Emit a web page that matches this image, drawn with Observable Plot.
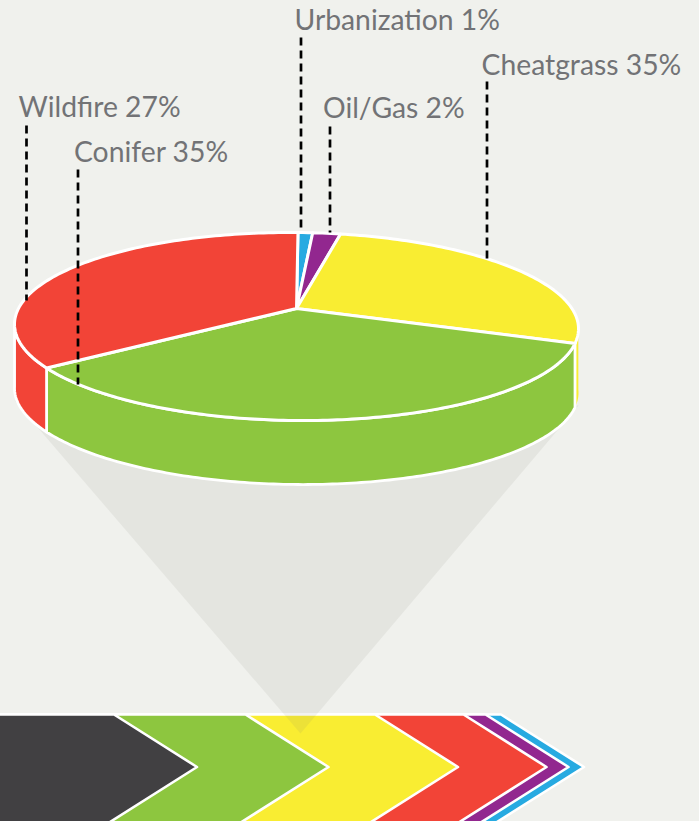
<!DOCTYPE html>
<html>
<head>
<meta charset="utf-8">
<style>
html,body{margin:0;padding:0;background:#f0f1ed;overflow:hidden;}
svg{display:block;}
</style>
<script src="https://cdn.jsdelivr.net/npm/d3@7"></script>
<script src="https://cdn.jsdelivr.net/npm/@observablehq/plot@0.6"></script>
</head>
<body>
<div id="chart"></div>
<script>
// Chart data
const categories = ["Urbanization", "Oil/Gas", "Cheatgrass", "Conifer", "Wildfire"];
const shares = [1, 2, 35, 35, 27];
const colors = ["#27aae1", "#92278f", "#f9ed32", "#8dc63f", "#f24437"];
// Where each slice begins on the rim, in degrees clockwise from the right-hand side of the ellipse
const sliceStart = [-89.7, -86.7, -81, 9, 152.4];
// Chevron strip: order from front to back, and where each tip reaches
const chevronNames = ["Other", "Conifer", "Cheatgrass", "Wildfire", "Oil/Gas", "Urbanization"];
const chevronTips = [196.5, 328, 457.5, 546, 568, 583.5];
// Labels and leaders
const labelX = [294, 322.5, 481, 73.5, 18];
const labelY = [29.5, 117.5, 74.5, 161.5, 116.5];
const leaderX = [300.5, 329.5, 486.5, 77.5, 26];
const leaderTop = [37, 126, 81, 169, 125];
const leaderEnd = [232, 232, 258, 384, 300];

// Layout of the drawing
const W = 699, H = 821;
const pie = {cx: 296, cy: 326, rx: 282, ry: 94, depth: 64, apexY: 308, shear: 0.008};
const strip = {top: 714, mid: 766.5, slant: 83};
const funnel = {left: 14, leftY: 400, right: 578, rightY: 405, tipX: 300, tipY: 733};

const rim = (deg, drop = 0) => {
  const t = deg * Math.PI / 180;
  const x = pie.cx + pie.rx * Math.cos(t);
  return {x, y: pie.cy + pie.ry * Math.sin(t) + pie.shear * (x - pie.cx) + drop};
};
const arc = (a, b, drop = 0) => {
  const steps = Math.max(2, Math.ceil(Math.abs(b - a)));
  return d3.range(steps + 1).map(i => rim(a + (b - a) * i / steps, drop));
};

const slices = categories.map((name, i) => ({
  name,
  from: sliceStart[i],
  to: i + 1 < categories.length ? sliceStart[i + 1] : sliceStart[0] + 360
}));

const topFaces = slices.flatMap(s =>
  [{x: pie.cx, y: pie.apexY}, ...arc(s.from, s.to)].map(p => ({...p, name: s.name}))
);
// Only the part of the rim facing the viewer has a visible wall
const wall = s => {
  const a = Math.max(s.from, -2), b = Math.min(s.to, 181);
  return b > a ? [...arc(a, b), ...arc(b, a, pie.depth)].map(p => ({...p, name: s.name})) : [];
};
const sideFaces = slices.filter(s => s.name !== "Cheatgrass").flatMap(wall);
const sliverFace = slices.filter(s => s.name === "Cheatgrass").flatMap(wall);

// Each chevron's flanks run past the lower edge of the picture
const half = strip.mid - strip.top;
const below = H + 10;
const chevrons = chevronNames.map((name, i) => ({name, tip: chevronTips[i]})).reverse()
  .flatMap(c => [
    {x: -10, y: strip.top}, {x: c.tip - strip.slant, y: strip.top},
    {x: c.tip, y: strip.mid},
    {x: c.tip - strip.slant * (below - strip.mid) / half, y: below}, {x: -10, y: below}
  ].map(p => ({...p, name: c.name})));

const funnelShape = [
  {x: funnel.left, y: funnel.leftY},
  {x: funnel.right, y: funnel.rightY},
  {x: funnel.tipX, y: funnel.tipY}
];

const leaders = categories.flatMap((name, i) => [
  {name, x: leaderX[i], y: leaderTop[i]},
  {name, x: leaderX[i], y: leaderEnd[i]}
]);

const labels = categories.map((name, i) => ({
  text: `${name} ${shares[i]}%`, x: labelX[i], y: labelY[i]
}));

const shape = (data, extra) => Plot.line(data, {
  x: "x", y: "y", z: "name", fill: "name", stroke: "#ffffff",
  curve: "linear-closed", strokeLinejoin: "round", ...extra
});

const chart = Plot.plot({
  width: W, height: H,
  margin: 0,
  x: {domain: [0, W], range: [0, W], axis: null},
  y: {domain: [0, H], range: [0, H], axis: null},
  color: {domain: [...categories, "Other"], range: [...colors, "#414042"]},
  style: {background: "transparent"},
  marks: [
    shape(chevrons, {strokeWidth: 2.6}),
    Plot.line(funnelShape, {x: "x", y: "y", fill: "#7c7c74", fillOpacity: 0.1, stroke: "none", curve: "linear-closed"}),
    shape(sliverFace, {stroke: "none"}),
    shape(sideFaces, {strokeWidth: 2.8}),
    shape(topFaces, {strokeWidth: 3}),
    Plot.line(leaders, {
      x: "x", y: "y", z: "name", stroke: "#000000", strokeWidth: 2.7,
      strokeDasharray: "8 5", strokeLinecap: "butt"
    }),
    Plot.text(labels, {
      x: "x", y: "y", text: "text", textAnchor: "start", lineAnchor: "bottom",
      fill: "#727376", fontFamily: "Lato", fontSize: 28.3
    })
  ]
});
document.getElementById("chart").append(chart);
</script>
</body>
</html>
